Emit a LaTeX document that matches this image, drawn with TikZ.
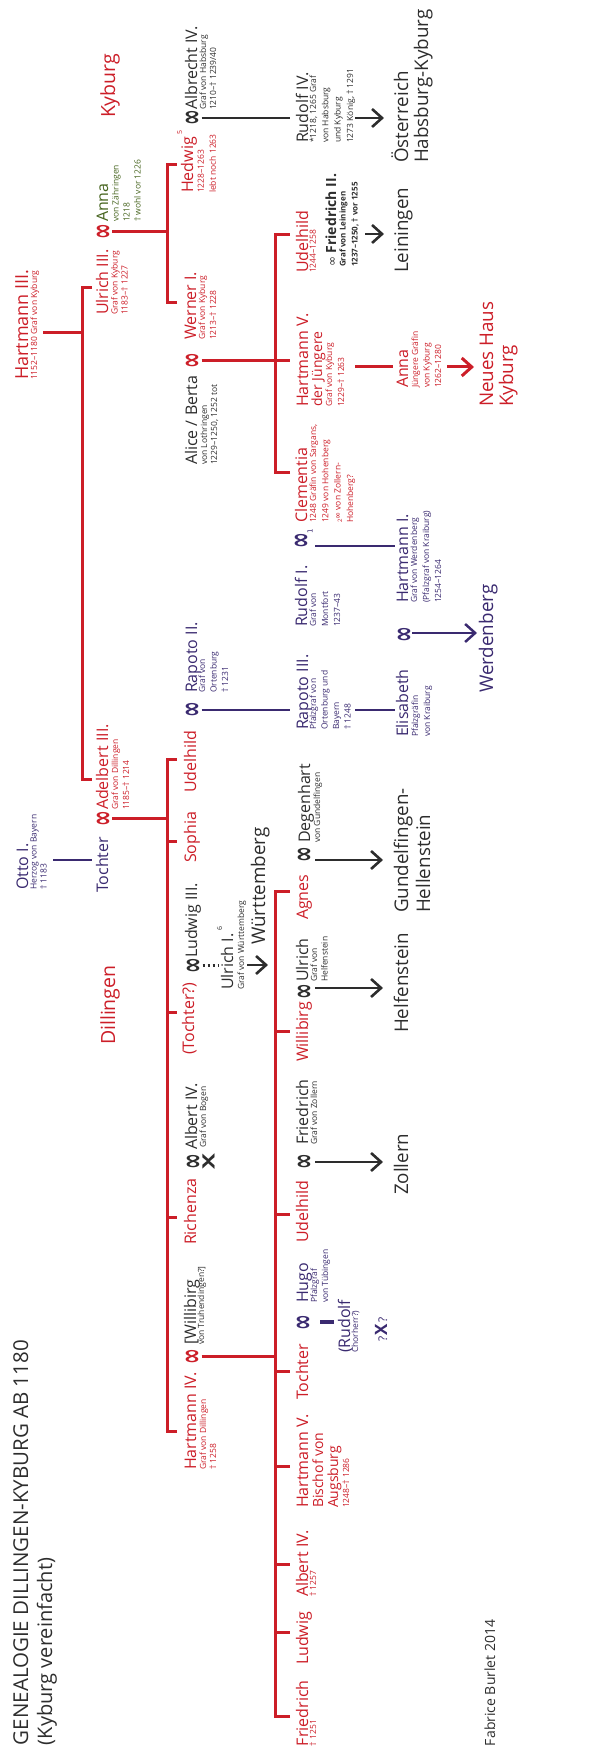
\documentclass[tikz,border=0pt]{standalone}
\usepackage{fontspec}
\setmainfont{Open Sans}
\newfontfamily\symf{DejaVu Sans}
\usetikzlibrary{arrows.meta}
\definecolor{kred}{RGB}{204,30,40}
\definecolor{kpur}{RGB}{58,42,112}
\definecolor{kdark}{RGB}{45,45,45}
\definecolor{kgreen}{RGB}{70,100,30}
\newcommand\infsym{\scalebox{1}[1.6]{∞}}
\tikzset{
  txt/.style={anchor=base west, inner sep=0pt, outer sep=0pt},
  nm/.style={txt, font=\fontsize{16}{18}\selectfont},
  nmb/.style={txt, font=\fontsize{14}{16}\selectfont},
  big/.style={txt, font=\fontsize{18.8}{22}\selectfont},
  sub/.style={anchor=north west, inner sep=0pt, outer sep=0pt, yshift=6.4pt, align=left, font=\fontsize{8.5}{11}\selectfont},
  inf/.style={inner sep=0pt, outer sep=0pt, yshift=-3pt, font=\symf\bfseries\fontsize{19}{19}\selectfont},
  cR/.style={text=kred}, cP/.style={text=kpur}, cD/.style={text=kdark}, cG/.style={text=kgreen},
  lR/.style={draw=kred, line width=3pt},
  lP/.style={draw=kpur, line width=2.5pt},
  lPt/.style={draw=kpur, line width=1.8pt},
  lD/.style={draw=kdark, line width=2.6pt},
  arr/.style={-{Straight Barb[length=10pt,width=18pt]}},
  dotline/.style={draw=kdark, line width=3pt, dash pattern=on 2.5pt off 2.5pt}
}
\begin{document}
\begin{tikzpicture}[x=1pt,y=1pt]
\path[use as bounding box] (0,0) rectangle (613,1746);
\begin{scope}[rotate=90, every node/.append style={transform shape}]
% ---------- titles
\node[txt, cD, font=\fontsize{20.5}{24}\selectfont] (title) at (1,-28) {GENEALOGIE DILLINGEN-KYBURG AB 1180};
\node[txt, cD, font=\fontsize{20}{24}\selectfont] (subtitle) at (1,-52) {(Kyburg vereinfacht)};
\node[txt, cD, font=\fontsize{14}{16}\selectfont] (fab) at (0,-495) {Fabrice Burlet 2014};
\node[big, cR, font=\fontsize{19.5}{22}\selectfont] (kyb) at (1628,-115) {Kyburg};
\node[big, cR, font=\fontsize{19.5}{22}\selectfont] (dil) at (701,-115) {Dillingen};
% ---------- generation 1
\node[txt, cR, font=\fontsize{18}{20}\selectfont] (h3) at (1366,-28) {Hartmann III.};
\node[sub, cR] (h3s) at (1366,-37) {1152–1180 Graf von Kyburg};
\node[nm, cP] (otto) at (856,-28) {Otto I.};
\node[sub, cP, font=\fontsize{8.5}{10}\selectfont] (ottos) at (856,-37) {Herzog von Bayern\\† 1183};
\coordinate (h3d) at (1413,-43);
\coordinate (h3j) at (1413,-82);
\coordinate (b1a) at (1458,-92); \coordinate (b1b) at (1458,-82);
\coordinate (b1c) at (966,-82);  \coordinate (b1d) at (966,-92);
\draw[lR] (h3d) -- (h3j);
\draw[lR] (b1a) -- (b1b) -- (b1c) -- (b1d);
\coordinate (ottod) at (886,-53); \coordinate (ottoj) at (886,-92);
\draw[lP] (ottod) -- (ottoj);
% ---------- generation 2
\node[nm, cR] (u3) at (1431,-108) {Ulrich III.};
\node[sub, cR, font=\fontsize{8.5}{10}\selectfont] (u3s) at (1431,-117.5) {Graf von Kyburg\\1183–† 1227};
\node[inf, text=kred] (i1) at (1514,-101.5) {\infsym};
\node[nm, cG] (anna1) at (1524,-108) {Anna};
\node[sub, cG] (anna1s) at (1524,-118.5) {von Zähringen\\1218\\† wohl vor 1226};
\node[nm, cP] (toch1) at (853,-108) {Tochter};
\node[inf, text=kred] (i2) at (927,-101.5) {\infsym};
\node[nm, cR] (ad3) at (936,-108) {Adelbert III.};
\node[sub, cR] (ad3s) at (936,-118) {Graf von Dillingen\\1185–† 1214};
\coordinate (k1) at (1514,-167);
\draw[lR] (i1.south) -- (k1);
\coordinate (b2a) at (1443,-177); \coordinate (b2b) at (1443,-167);
\coordinate (b2c) at (1581,-167); \coordinate (b2d) at (1581,-177);
\draw[lR] (b2a) -- (b2b) -- (b2c) -- (b2d);
\coordinate (k2) at (927,-167);
\draw[lR] (i2.south) -- (k2);
\coordinate (b3a) at (314,-177); \coordinate (b3b) at (314,-167);
\coordinate (b3c) at (986,-167); \coordinate (b3d) at (986,-177);
\draw[lR] (b3a) -- (b3b) -- (b3c) -- (b3d);
\foreach \t in {904,733,528} { \draw[lR] (\t,-167) -- (\t,-177); }
% ---------- generation 3
\node[nm, cR] (hed) at (1553,-193) {Hedwig\,\raisebox{11pt}{\fontsize{7}{7}\selectfont 5}};
\node[sub, cR, font=\fontsize{8.5}{12}\selectfont] (heds) at (1553,-204) {1228–1263\\lebt noch 1263};
\node[inf, text=kdark] (i3) at (1628,-191) {\infsym};
\node[nm, cD] (alb) at (1636,-197) {Albrecht IV.};
\node[sub, cD, font=\fontsize{8.5}{10}\selectfont] (albs) at (1636,-206) {Graf von Habsburg\\1210–† 1239/40};
\node[nm, cR] (wer) at (1406,-196) {Werner I.};
\node[sub, cR] (wers) at (1406,-205) {Graf von Kyburg\\1213–† 1228};
\node[inf, text=kred] (i4) at (1385,-191) {\infsym};
\node[nm, cD] (ali) at (1281,-197) {Alice / Berta};
\node[sub, cD, font=\fontsize{8.5}{10}\selectfont] (alis) at (1281,-207) {von Lothringen\\1229–1250, 1252 tot};
\node[nm, cP] (rap2) at (1053,-197) {Rapoto II.};
\node[sub, cP, font=\fontsize{8.5}{11.5}\selectfont] (rap2s) at (1053,-205) {Graf von\\Ortenburg\\† 1231};
\node[inf, text=kpur] (i5) at (1036,-191) {\infsym};
\node[nm, cR] (ud1) at (953,-196) {Udelhild};
\node[nm, cR] (soph) at (883,-196) {Sophia};
\node[nm, cD] (lud3) at (788,-197) {Ludwig III.};
\node[inf, text=kdark] (i6) at (780,-192) {\infsym};
\node[nm, cR] (toq) at (691,-194) {(Tochter?)};
\node[nm, cD] (alb4) at (596,-197) {Albert IV.};
\node[sub, cD] (alb4s) at (598,-206) {Graf von Bogen};
\node[inf, text=kdark] (i7) at (584,-192) {\infsym};
\node[inner sep=0pt, cD, font=\bfseries\fontsize{17}{17}\selectfont] (x1) at (584,-208.5) {\scalebox{1.4}[1]{X}};
\node[nm, cR] (rich) at (501,-196) {Richenza};
\node[nm, cD] (wil1) at (401,-196) {[Willibirg};
\node[sub, cD] (wil1s) at (401,-204) {von Truhendingen?]};
\node[inf, text=kred] (i8) at (389,-191) {\infsym};
\node[nm, cR] (h4) at (276,-196) {Hartmann IV.};
\node[sub, cR, font=\fontsize{8.5}{10}\selectfont] (h4s) at (276,-206) {Graf von Dillingen\\† 1258};
% lines generation 3
\coordinate (rud4top) at (1628,-290);
\draw[lD] (i3.south) -- (rud4top);
\coordinate (k4) at (1385,-290);
\draw[lR] (i4.south) -- (k4);
\coordinate (b4a) at (1273,-290); \coordinate (b4b) at (1273,-275);
\coordinate (b4c) at (1511,-275); \coordinate (b4d) at (1511,-290);
\draw[lR] (b4a) -- (b4b) -- (b4c) -- (b4d);
\coordinate (k5) at (1036,-290);
\draw[lPt] (i5.south) -- (k5);
\coordinate (k6) at (780,-218);
\draw[dotline] (i6.south) -- (k6);
\coordinate (k8) at (389,-275);
\draw[lR] (i8.south) -- (k8);
\coordinate (b5a) at (29,-290); \coordinate (b5b) at (29,-275);
\coordinate (b5c) at (854,-275); \coordinate (b5d) at (854,-290);
\draw[lR] (b5a) -- (b5b) -- (b5c) -- (b5d);
\foreach \t in {714,531,374,279,181,113} { \draw[lR] (\t,-275) -- (\t,-290); }
% Ulrich I. / Wuerttemberg
\node[nm, cD] (ul1) at (756,-233) {Ulrich I.\,\raisebox{11pt}{\fontsize{7}{7}\selectfont 6}};
\node[sub, cD] (ul1s) at (756,-244) {Graf von Württemberg};
\coordinate (wa1) at (781,-247); \coordinate (wa2) at (781,-268);
\draw[lD, arr] (wa1) -- (wa2);
\node[big, cD] (wurt) at (801,-265) {Württemberg};
% ---------- generation 4
\node[nm, cD] (rud4) at (1603,-308) {Rudolf IV.};
\node[sub, cD, font=\fontsize{8.5}{12.3}\selectfont] (rud4s) at (1603,-316) {*1218, 1265 Graf\\von Habsburg\\und Kyburg\\1273 König, † 1291};
\coordinate (ra1) at (1628,-355); \coordinate (ra2) at (1628,-384);
\draw[lD, arr] (ra1) -- (ra2);
\node[nm, cR] (ud2) at (1473,-308) {Udelhild};
\node[sub, cR] (ud2s) at (1473,-316) {1244–1258};
\node[txt, cD, font=\bfseries\fontsize{14}{16}\selectfont] (fr2) at (1479,-336) {{\symf\mdseries\fontsize{12}{12}\selectfont ∞} Friedrich II.};
\node[sub, cD, font=\bfseries\fontsize{8}{12}\selectfont] (fr2s) at (1479,-346) {Graf von Leiningen\\1237–1250, † vor 1255};
\coordinate (la1) at (1512,-365); \coordinate (la2) at (1512,-384);
\draw[lD, arr] (la1) -- (la2);
\node[nm, cR] (h5) at (1339,-308) {Hartmann V.};
\node[nmb, cR] (h5b) at (1339,-322) {der Jüngere};
\node[sub, cR, font=\fontsize{8.5}{12}\selectfont] (h5s) at (1339,-332) {Graf von Kyburg\\1229–† 1263};
\coordinate (ha1) at (1379,-355); \coordinate (ha2) at (1379,-393);
\draw[lR] (ha1) -- (ha2);
\node[nm, cR] (cle) at (1223,-307) {Clementia};
\node[sub, cR, font=\fontsize{8.5}{12.3}\selectfont] (cles) at (1223,-316) {1248 Gräfin von Sargans,\\1249 von Hohenberg\\{\fontsize{6}{6}\selectfont\raisebox{-1.5pt}{2}}{\symf ∞} von Zollern-\\Hohenberg?};
\node[nm, cP] (rud1) at (1119,-307) {Rudolf I.};
\node[inf, text=kpur] (i9) at (1205,-301) {\infsym\rlap{\raisebox{-2pt}{\mdseries\fontsize{7}{7}\selectfont 1}}};
\node[sub, cP, font=\fontsize{8.5}{12}\selectfont] (rud1s) at (1119,-316) {Graf von\\Montfort\\1237–43};
\coordinate (r1a) at (1200,-315); \coordinate (r1b) at (1200,-395);
\draw[lP] (r1a) -- (r1b);
\node[nm, cP] (rap3) at (1016,-308) {Rapoto III.};
\node[sub, cP, font=\fontsize{8.5}{11.5}\selectfont] (rap3s) at (1016,-316) {Pfalzgraf von\\Ortenburg und\\Bayern\\† 1248};
\coordinate (r3a) at (1036,-355); \coordinate (r3b) at (1036,-395);
\draw[lPt] (r3a) -- (r3b);
\node[nm, cR] (agn) at (826,-308) {Agnes};
\node[inf, text=kdark] (i10) at (891,-303) {\infsym};
\node[nm, cD] (deg) at (903,-310) {Degenhart};
\node[sub, cD] (degs) at (903,-320) {von Gundelfingen};
\coordinate (ga1) at (886,-315); \coordinate (ga2) at (886,-383);
\draw[lD, arr] (ga1) -- (ga2);
\node[nm, cR] (wil2) at (684,-308) {Willibirg};
\node[inf, text=kdark] (i11) at (754,-303) {\infsym};
\node[nm, cD] (ulr) at (764,-308) {Ulrich};
\node[sub, cD, font=\fontsize{8.5}{10.5}\selectfont] (ulrs) at (764,-317) {Graf von\\Helfenstein};
\coordinate (hfa1) at (758,-315); \coordinate (hfa2) at (758,-383);
\draw[lD, arr] (hfa1) -- (hfa2);
\node[nm, cR] (ud3) at (503,-308) {Udelhild};
\node[inf, text=kdark] (i12) at (584,-303) {\infsym};
\node[nm, cD] (fri) at (601,-308) {Friedrich};
\node[sub, cD] (fris) at (601,-317) {Graf von Zollern};
\coordinate (za1) at (584,-315); \coordinate (za2) at (584,-383);
\draw[lD, arr] (za1) -- (za2);
\node[nm, cR] (toc2) at (346,-308) {Tochter};
\node[inf, text=kpur] (i13) at (423,-302) {\infsym};
\node[nm, cP] (hugo) at (443,-308) {Hugo};
\node[sub, cP] (hugos) at (443,-317) {Pfalzgraf\\von Tübingen};
\coordinate (hb1) at (424,-320); \coordinate (hb2) at (424,-334);
\draw[draw=kpur, line width=3.5pt] (hb1) -- (hb2);
\node[nm, cP] (rudc) at (393,-350) {(Rudolf};
\node[sub, cP] (rudcs) at (393,-358) {Chorherr?)};
\node[txt, cP] (qxq) at (404,-387) {{\fontsize{12}{12}\selectfont ?}\,{\bfseries\fontsize{17}{17}\selectfont X}\,{\fontsize{12}{12}\selectfont ?}};
\node[nm, cR] (h5d) at (238,-308) {Hartmann V.};
\node[nmb, cR] (h5d2) at (238,-323) {Bischof von};
\node[nmb, cR] (h5d3) at (238,-338) {Augsburg};
\node[sub, cR] (h5ds) at (238,-349) {1248–† 1286};
\node[nm, cR] (alb4d) at (149,-308) {Albert IV.};
\node[sub, cR] (alb4ds) at (149,-316) {† 1257};
\node[nm, cR] (ludd) at (81,-308) {Ludwig};
\node[nm, cR] (frid) at (0,-308) {Friedrich};
\node[sub, cR] (frids) at (0,-316) {† 1251};
% ---------- generation 5
\node[big, cD] (oes) at (1583,-408) {Österreich};
\node[big, cD] (hk) at (1583,-428) {Habsburg-Kyburg};
\node[big, cD] (lei) at (1473,-408) {Leiningen};
\node[nm, cR] (anna2) at (1358,-408) {Anna};
\node[sub, cR, font=\fontsize{8.5}{11.5}\selectfont] (anna2s) at (1358,-418) {Jüngere Gräfin\\von Kyburg\\1262–1280};
\coordinate (na1) at (1379,-447); \coordinate (na2) at (1379,-474);
\draw[lR, arr] (na1) -- (na2);
\node[big, cR] (nh) at (1339,-493) {Neues Haus};
\node[big, cR] (nh2) at (1339,-513) {Kyburg};
\node[nm, cP] (h1) at (1143,-408) {Hartmann I.};
\node[sub, cP, font=\fontsize{8.5}{12}\selectfont] (h1s) at (1143,-417) {Graf von Werdenberg\\(Pfalzgraf von Kraiburg)\\1254–1264};
\node[inf, text=kpur] (i14) at (1111,-402.5) {\infsym};
\node[nm, cP] (eli) at (1009,-408) {Elisabeth};
\node[sub, cP, font=\fontsize{8.5}{12}\selectfont] (elis) at (1009,-418) {Pfalzgräfin\\von Kraiburg};
\coordinate (wa3) at (1113,-412); \coordinate (wa4) at (1113,-477);
\draw[lP, arr] (wa3) -- (wa4);
\node[big, cP] (werd) at (1053,-493) {Werdenberg};
\node[big, cD] (gun) at (833,-408) {Gundelfingen-};
\node[big, cD] (hel) at (833,-430) {Hellenstein};
\node[big, cD] (helf) at (713,-408) {Helfenstein};
\node[big, cD] (zol) at (551,-408) {Zollern};
\end{scope}
\end{tikzpicture}
\end{document}
